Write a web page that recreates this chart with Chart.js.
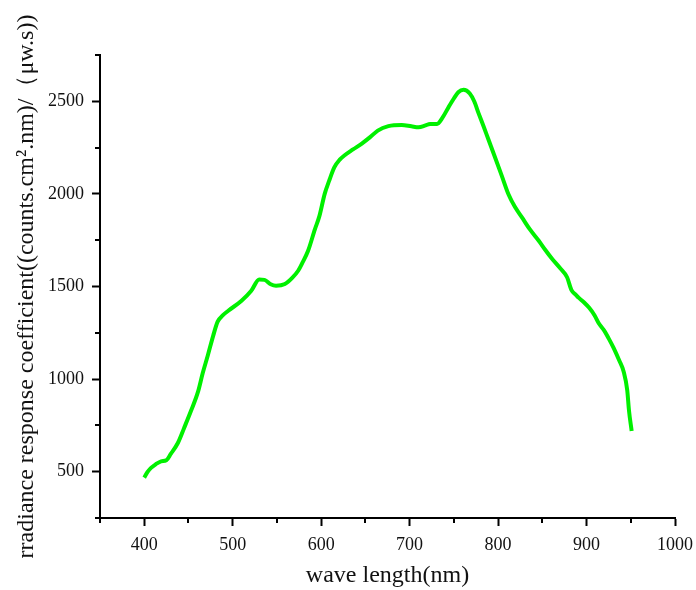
<!DOCTYPE html>
<html lang="en">

<head>
  <meta charset="UTF-8" />
  <title>radiance response coefficient</title>
  <script src="https://cdn.jsdelivr.net/npm/chart.js"></script>
  <style>
    html, body {
      margin: 0;
      padding: 0;
      background: #fff;
    }

    .wrap {
      width: 696px;
      height: 590px;
    }
  </style>
</head>

<body>
  <div class="wrap">
    <canvas id="myChart_response"></canvas>
  </div>

  <script>
    // wavelength (nm) and coefficient values
    const wavelength = [400, 404, 408, 413, 419, 425, 430, 438, 445, 453, 461, 466, 472, 478, 483, 489, 495, 510,
      521, 530, 536, 543, 549, 559, 567, 574, 579, 585, 593, 598, 604, 609, 615, 621, 627, 636, 646, 655, 664, 676,
      691, 702, 710, 718, 723, 731, 737, 744, 750, 755, 761, 768, 773, 778, 784, 789, 796, 804, 812, 819, 827, 836,
      846, 853, 861, 870, 878, 883, 888, 891, 897, 903, 909, 914, 920, 925, 931, 937, 942, 946, 948, 951
    ];
    const coefficient = [468, 500, 522, 540, 556, 562, 596, 655, 735, 830, 935, 1030, 1130, 1235, 1310, 1345, 1369,
      1423, 1477, 1538, 1536, 1512, 1504, 1513, 1545, 1585, 1630, 1690, 1810, 1880, 2000, 2070, 2144, 2185, 2210,
      2240, 2272, 2305, 2342, 2366, 2372, 2365, 2360, 2370, 2378, 2378, 2410, 2468, 2515, 2549, 2562, 2542, 2500,
      2435, 2360, 2295, 2205, 2100, 1995, 1930, 1873, 1808, 1747, 1700, 1650, 1600, 1550, 1480, 1455, 1440, 1415,
      1385, 1345, 1300, 1262, 1220, 1165, 1100, 1040, 940, 830, 720
    ];

    // axis ranges / tick labels
    const xMin = 350, xMax = 1000, xMajor = 100;
    const yMin = 250, yMax = 2750, yMajor = 500;
    const xTitle = 'wave length(nm)';
    const yTitle = 'rradiance response coefficient((counts.cm\u00b2.nm)/\uff08\u03bcw.s))';

    const points = wavelength.map((w, i) => ({ x: w, y: coefficient[i] }));

    const serif = 'Liberation Serif';
    const isMajor = (v, step) => Math.abs(v % step) < 1e-6;

    // short minor ticks drawn from the scales themselves
    const minorTicks = {
      id: 'minorTicks',
      afterDraw(chart) {
        const { ctx, chartArea, scales } = chart;
        ctx.save();
        ctx.strokeStyle = '#000';
        ctx.lineWidth = 2;
        ctx.beginPath();
        scales.x.ticks.forEach(t => {
          if (!isMajor(t.value, xMajor)) {
            const px = Math.round(scales.x.getPixelForValue(t.value));
            ctx.moveTo(px, chartArea.bottom);
            ctx.lineTo(px, chartArea.bottom + 5);
          }
        });
        scales.y.ticks.forEach(t => {
          if (!isMajor(t.value, yMajor)) {
            const py = Math.round(scales.y.getPixelForValue(t.value));
            ctx.moveTo(chartArea.left, py);
            ctx.lineTo(chartArea.left - 5, py);
          }
        });
        ctx.stroke();
        ctx.restore();
      }
    };

    const tickColor = (step) => (c) => (c.tick && isMajor(c.tick.value, step)) ? '#000' : 'rgba(0,0,0,0)';

    new Chart(document.getElementById('myChart_response'), {
      type: 'line',
      data: {
        datasets: [{
          data: points,
          borderColor: '#00f000',
          borderWidth: 4,
          pointRadius: 0,
          fill: false,
          cubicInterpolationMode: 'monotone'
        }]
      },
      plugins: [minorTicks],
      options: {
        responsive: true,
        maintainAspectRatio: false,
        animation: false,
        layout: {
          padding: { top: 55, right: 21, bottom: 0, left: 0 }
        },
        plugins: {
          legend: { display: false },
          tooltip: { enabled: false }
        },
        scales: {
          x: {
            type: 'linear',
            min: xMin,
            max: xMax,
            afterFit: (s) => {
              s.height = 72;
              s.paddingLeft = 0;
              s.paddingRight = 0;
            },
            ticks: {
              stepSize: 50,
              autoSkip: false,
              maxRotation: 0,
              padding: 8,
              color: '#111',
              font: { family: serif, size: 18 },
              callback: (v) => isMajor(v, xMajor) ? v : ''
            },
            grid: {
              drawOnChartArea: false,
              tickLength: 8,
              tickWidth: 2,
              tickColor: tickColor(xMajor)
            },
            border: { color: '#000', width: 2 },
            title: {
              display: true,
              text: xTitle,
              color: '#111',
              font: { family: serif, size: 24 },
              padding: { top: 0, bottom: 0 }
            }
          },
          y: {
            min: yMin,
            max: yMax,
            afterFit: (s) => { s.width = 100; },
            ticks: {
              stepSize: 250,
              autoSkip: false,
              padding: 8,
              color: '#111',
              font: { family: serif, size: 18 },
              callback: (v) => isMajor(v, yMajor) ? v : ''
            },
            grid: {
              drawOnChartArea: false,
              tickLength: 8,
              tickWidth: 2,
              tickColor: tickColor(yMajor)
            },
            border: { color: '#000', width: 2 },
            title: {
              display: true,
              text: yTitle,
              color: '#111',
              font: { family: serif, size: 24 },
              padding: { top: 12, bottom: 0 }
            }
          }
        }
      }
    });
  </script>
</body>

</html>
